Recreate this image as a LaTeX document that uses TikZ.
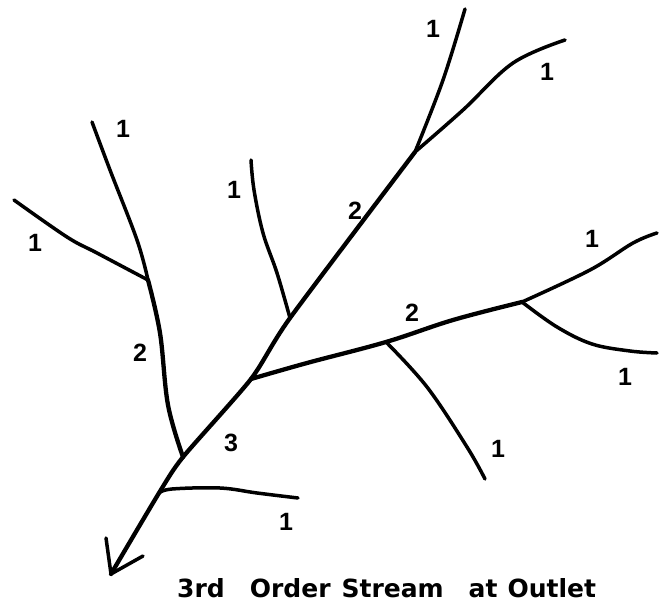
\documentclass[tikz,border=0pt]{standalone}
\usepackage{fontspec}
\setmainfont{Liberation Sans}
\newfontfamily\capfont{DejaVu Sans}
\begin{document}
\begin{tikzpicture}[x=1pt,y=-1pt,
  stream/.style={line width=3.5pt, line cap=round, line join=round},
  trunk/.style={stream, line width=4.3pt},
  lab/.style={font=\fontsize{25}{25}\selectfont\bfseries, inner sep=0pt},
  captext/.style={font=\capfont\fontsize{25}{25}\selectfont\bfseries, inner sep=0pt, anchor=base west}]
\useasboundingbox (0,0) rectangle (659,607);
% junctions and ends
\coordinate (out) at (111,574);
\coordinate (jA) at (159,493);
\coordinate (jB) at (183,457);
\coordinate (jC) at (251,379);
\coordinate (jD) at (290,318);
\coordinate (jE) at (415,152);
\coordinate (jF) at (386,342);
\coordinate (jG) at (522,302);
\coordinate (jH) at (148,280);
\coordinate (bl) at (106,538);
\coordinate (br) at (143,556);
\coordinate (eTop) at (465,9);
\coordinate (eTR) at (565,40);
\coordinate (eR1) at (657,233);
\coordinate (eR2) at (657,353);
\coordinate (eLow) at (485,479);
\coordinate (eMid) at (251,160);
\coordinate (eL1) at (92,122);
\coordinate (eL2) at (14,200);
\coordinate (eB) at (298,498);
% trunk (order 3 and upper order 2)
\draw[trunk] plot[smooth, tension=0.4] coordinates {(out) (jA) (jB) (jC) (jD) (jE)};
\draw[stream] (bl) -- (out) -- (br);
% upper branch
\draw[stream] plot[smooth, tension=0.6] coordinates {(jE) (443,80) (eTop)};
\draw[stream] plot[smooth, tension=0.6] coordinates {(jE) (463,110) (513,63) (eTR)};
% right order 2
\draw[trunk] plot[smooth, tension=0.6] coordinates {(jC) (307,363) (jF) (453,320) (jG)};
\draw[stream] plot[smooth, tension=0.6] coordinates {(jG) (590,270) (633,243) (eR1)};
\draw[stream] plot[smooth, tension=0.6] coordinates {(jG) (557,327) (592,344) (630,351) (eR2)};
\draw[stream] plot[smooth, tension=0.6] coordinates {(jF) (427,387) (467,447) (eLow)};
% middle order 1
\draw[stream] plot[smooth, tension=0.6] coordinates {(jD) (277,273) (263,233) (254,190) (eMid)};
% left order 2
\draw[trunk] plot[smooth, tension=0.6] coordinates {(jB) (168,405) (160,333) (jH)};
\draw[stream] plot[smooth, tension=0.6] coordinates {(jH) (137,240) (110,170) (eL1)};
\draw[stream] plot[smooth, tension=0.6] coordinates {(jH) (97,253) (67,237) (eL2)};
% bottom order 1
\draw[stream] plot[smooth, tension=0.6] coordinates {(jA) (172,489) (220,488) (257,493) (eB)};
% labels
\node[lab] (l1) at (123,129) {1};
\node[lab] (l2) at (35,243) {1};
\node[lab] (l3) at (140,353) {2};
\node[lab] (l4) at (234,190) {1};
\node[lab] (l5) at (231,443) {3};
\node[lab] (l6) at (355,211) {2};
\node[lab] (l7) at (433,29) {1};
\node[lab] (l8) at (547,72) {1};
\node[lab] (l9) at (592,239) {1};
\node[lab] (l10) at (412,313) {2};
\node[lab] (l11) at (625,377) {1};
\node[lab] (l12) at (498,449) {1};
\node[lab] (l13) at (286,522) {1};
% caption
\node[captext] (caption) at (177,597) {3rd\hspace{25pt}Order\hspace{11pt}Stream\hspace{25pt}at\hspace{10pt}Outlet};
\end{tikzpicture}
\end{document}
